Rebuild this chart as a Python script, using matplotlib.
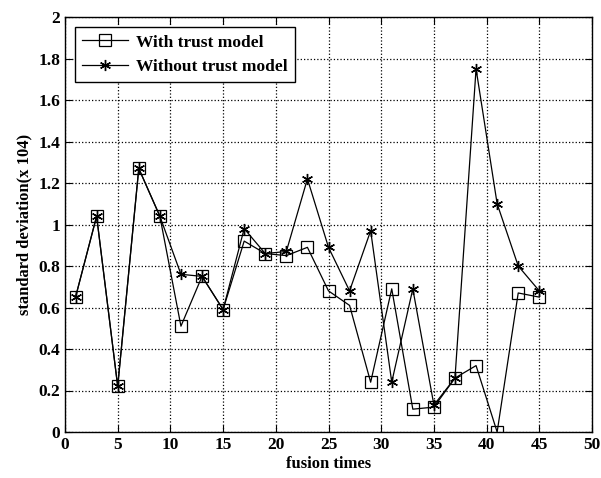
import matplotlib
matplotlib.use("Agg")
import matplotlib.pyplot as plt
import numpy as np

# fusion times and standard deviations
fusion_times = [1, 3, 5, 7, 9, 11, 13, 15, 17, 19, 21, 23, 25, 27, 29, 31, 33, 35, 37, 39, 41, 43, 45]
with_trust = [0.65, 1.04, 0.22, 1.27, 1.04, 0.51, 0.75, 0.59, 0.92, 0.86, 0.85, 0.89,
              0.68, 0.61, 0.24, 0.69, 0.11, 0.12, 0.26, 0.32, 0.00, 0.67, 0.65]
without_trust = [0.65, 1.04, 0.22, 1.27, 1.04, 0.76, 0.75, 0.59, 0.98, 0.86, 0.87, 1.22,
                 0.89, 0.68, 0.97, 0.24, 0.69, 0.13, 0.26, 1.75, 1.10, 0.80, 0.68]

plt.rcParams['font.family'] = ['Liberation Serif', 'DejaVu Serif']
plt.rcParams['font.weight'] = 'bold'

fig = plt.figure(figsize=(6.01, 4.78), dpi=100)
ax = fig.add_axes([65 / 601, 1 - 432 / 478, 527 / 601, 415 / 478])

ax.plot(fusion_times, with_trust, '-s', color='k', linewidth=0.9,
        markerfacecolor='none', markersize=8, markeredgewidth=0.9, label='With trust model')
# matlab style asterisk marker
ax.plot(fusion_times, without_trust, '-', marker=(6, 2, 0), color='k', linewidth=0.9,
        markersize=8, markeredgewidth=1.0, label='Without trust model')

ax.set_xlim(0, 50)
ax.set_ylim(0, 2)
ax.set_xticks(np.arange(0, 51, 5))
ax.set_yticks(np.arange(0, 2.01, 0.2))
ax.set_yticklabels(['0', '0.2', '0.4', '0.6', '0.8', '1', '1.2', '1.4', '1.6', '1.8', '2'])

ax.grid(True, linestyle=':', color='k', linewidth=0.9)
ax.tick_params(direction='in', labelsize=12.5, top=True, right=True, length=5)
for s in ax.spines.values():
    s.set_linewidth(1.0)

ax.set_xlabel('fusion times', fontsize=12, fontweight='bold', labelpad=2)
ax.set_ylabel('standard deviation(x 104)', fontsize=12, fontweight='bold', labelpad=4)

leg = ax.legend(loc='upper left', fontsize=12.5, fancybox=False, framealpha=1,
                edgecolor='k', borderaxespad=0.6, handlelength=2.6, handletextpad=0.5)
leg.get_frame().set_linewidth(1.0)

fig.savefig('out.png', dpi=100)
